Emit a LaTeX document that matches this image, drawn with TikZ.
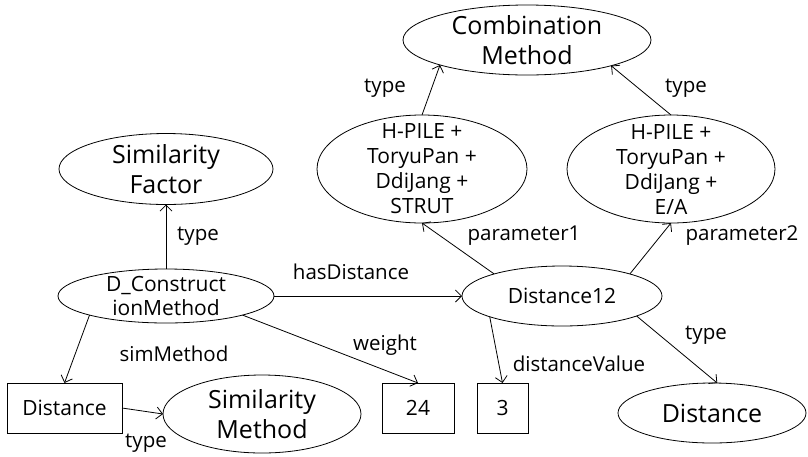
\documentclass[tikz,border=0pt]{standalone}
\usepackage{fontspec}
\setmainfont{Open Sans}
\usetikzlibrary{shapes.geometric,arrows.meta}
\begin{document}
\begin{tikzpicture}[x=1pt,y=-1pt,
  every node/.style={inner sep=0pt, outer sep=0pt},
  clstxt/.style={align=center, font=\fontsize{25}{30}\selectfont},
  insttxt/.style={align=center, font=\fontsize{21}{25}\selectfont},
  ell/.style={ellipse, draw, line width=0.8pt},
  cls/.style={ell, label={[clstxt]center:{#1}}},
  inst/.style={ell, label={[insttxt]center:{#1}}},
  lit/.style={rectangle, draw, line width=0.8pt, font=\fontsize{21}{25}\selectfont},
  lbl/.style={font=\fontsize{20.5}{24}\selectfont},
  rel/.style={draw, line width=0.8pt, -{Straight Barb[length=6pt,width=12pt]}}
]
\useasboundingbox (0,0) rectangle (808,456);

% classes
\node[cls={Combination\\Method}, minimum width=248pt, minimum height=70pt] (cm) at (527,40) {};
\node[cls={Similarity\\Factor}, minimum width=214pt, minimum height=71pt] (sf) at (166,169) {};
\node[cls={Similarity\\Method}, minimum width=198pt, minimum height=78pt] (sm) at (262,414) {};
\node[cls={Distance}, minimum width=188pt, minimum height=60pt] (dist) at (712,413) {};

% instances
\node[inst={H-PILE +\\ToryuPan +\\DdiJang +\\STRUT}, minimum width=210pt, minimum height=108pt] (p1) at (422,169) {};
\node[inst={H-PILE +\\ToryuPan +\\DdiJang +\\E/A}, minimum width=208pt, minimum height=108pt] (p2) at (671,169) {};
\node[ell, minimum width=216pt, minimum height=54pt,
      label={[align=center, font=\fontsize{21}{24}\selectfont]center:{D\_Construct\\ionMethod}}] (dc) at (166,296) {};
\node[inst={Distance12}, minimum width=200pt, minimum height=60pt] (d12) at (562,296) {};

% literals
\node[lit, minimum width=115pt, minimum height=50pt] (dbox) at (64.5,408) {Distance};
\node[lit, minimum width=72pt, minimum height=50pt] (b24) at (418,408) {24};
\node[lit, minimum width=51pt, minimum height=50pt] (b3) at (502.5,408) {3};

% relations
\draw[rel] (dc.north) -- (sf.south);
\draw[rel] (dc.east) -- (d12.west);
\draw[rel] (dc.194) -- (dbox.north);
\draw[rel] (dc.346) -- (b24.north);
\draw[rel] (dbox.east) -- (sm.west);
\draw[rel] (d12.162) -- (p1.south);
\draw[rel] (d12.18) -- (p2.south);
\draw[rel] (d12.196) -- (b3.north);
\draw[rel] (d12.345) -- (dist.80);
\draw[rel] (p1.north) -- (cm.196);
\draw[rel] (p2.north) -- (cm.343);

% relation labels
\node[lbl] (l1) at (198,236) {type};
\node[lbl] (l2) at (351,272) {hasDistance};
\node[lbl] (l3) at (174,354) {simMethod};
\node[lbl] (l4) at (385,345) {weight};
\node[lbl] (l5) at (146,443) {type};
\node[lbl] (l6) at (524,236) {parameter1};
\node[lbl] (l7) at (742,236) {parameter2};
\node[lbl] (l8) at (579,364) {distanceValue};
\node[lbl] (l9) at (706,335) {type};
\node[lbl] (l10) at (385,88) {type};
\node[lbl] (l11) at (686,88) {type};
\end{tikzpicture}
\end{document}
